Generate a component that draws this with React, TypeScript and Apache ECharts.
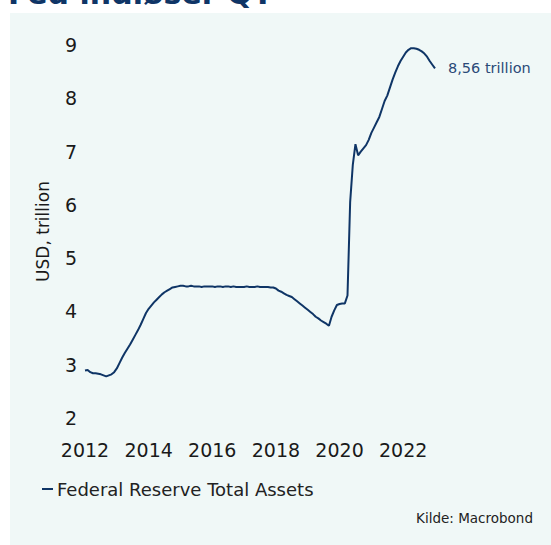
import React, { useEffect, useRef } from "react";
import * as echarts from "echarts";

const months: string[] = [];
for (let y = 2012; y <= 2022; y++) {
  for (let m = 1; m <= 12; m++) months.push(`${y}-${String(m).padStart(2, "0")}`);
}
months.push("2023-01");

const assets: number[] = [
  // 2012
  2.89, 2.9, 2.86, 2.84, 2.84, 2.83, 2.82, 2.8, 2.78, 2.8, 2.82, 2.86,
  // 2013
  2.93, 3.03, 3.13, 3.22, 3.3, 3.38, 3.47, 3.56, 3.65, 3.75, 3.86, 3.97,
  // 2014
  4.05, 4.11, 4.17, 4.22, 4.27, 4.32, 4.36, 4.39, 4.42, 4.45, 4.46, 4.47,
  // 2015
  4.48, 4.48, 4.47, 4.47, 4.48, 4.47, 4.47, 4.47, 4.46, 4.47, 4.47, 4.47,
  // 2016
  4.47, 4.46, 4.47, 4.47, 4.46, 4.47, 4.47, 4.46, 4.47, 4.46, 4.46, 4.46,
  // 2017
  4.46, 4.47, 4.46, 4.46, 4.46, 4.47, 4.46, 4.46, 4.46, 4.46, 4.45, 4.45,
  // 2018
  4.43, 4.39, 4.37, 4.34, 4.31, 4.29, 4.27, 4.23, 4.19, 4.15, 4.11, 4.07,
  // 2019
  4.03, 3.99, 3.95, 3.9, 3.87, 3.83, 3.8, 3.77, 3.73, 3.9, 4.02, 4.12,
  // 2020
  4.14, 4.15, 4.15, 4.3, 6.05, 6.75, 7.14, 6.93, 7.0, 7.06, 7.12, 7.22,
  // 2021
  7.35, 7.45, 7.55, 7.65, 7.8, 7.95, 8.05, 8.2, 8.35, 8.48, 8.6, 8.7,
  // 2022
  8.78, 8.86, 8.91, 8.94, 8.94, 8.93, 8.91, 8.88, 8.84, 8.78, 8.7, 8.63,
  // 2023
  8.56,
];

const seriesName = "Federal Reserve Total Assets";
const yAxisName = "USD, trillion";
const titleText = "Fed indløser QT";
const sourceText = "Kilde: Macrobond";

const FONT = "DejaVu Sans";
const NAVY = "#0f3566";

function toYear(s: string): number {
  const [y, m] = s.split("-").map(Number);
  return y + (m - 1) / 12;
}

export default function App() {
  const ref = useRef<HTMLDivElement>(null);
  useEffect(() => {
    if (!ref.current) return;
    const chart = echarts.init(ref.current, null, { renderer: "svg" });
    const data = months.map((d, i) => [toYear(d), assets[i]]);
    chart.setOption({
      animation: false,
      backgroundColor: "#ffffff",
      graphic: [
        {
          type: "rect",
          shape: { x: 10, y: 13, width: 541, height: 532 },
          style: { fill: "#f0f8f7" },
          z: -10,
          silent: true,
        },
        {
          type: "text",
          x: 8,
          y: 8,
          style: {
            text: titleText,
            font: `bold 30px ${FONT}`,
            fill: "#0f3566",
            verticalAlign: "bottom",
          },
          z: -5,
        },
        {
          type: "text",
          right: 18,
          top: 511,
          style: {
            text: sourceText,
            font: `13.5px ${FONT}`,
            fill: "#222222",
          },
        },
      ],
      grid: {
        left: 85,
        right: 116,
        top: 45,
        bottom: 127,
        outerBoundsMode: "none",
      },
      legend: {
        left: 42,
        top: 480,
        padding: 0,
        icon: "rect",
        itemWidth: 11,
        itemHeight: 2,
        itemGap: 4,
        textStyle: { fontFamily: FONT, fontSize: 18, color: "#222222", padding: [0, 0, 0, -1] },
        data: [seriesName],
      },
      xAxis: {
        type: "value",
        min: 2012,
        max: 2023,
        interval: 2,
        splitLine: { show: false },
        axisLine: { show: false },
        axisTick: { show: false },
        axisLabel: {
          margin: 22,
          fontFamily: FONT,
          fontSize: 19,
          color: "#1a1a1a",
          formatter: (v: number) => (v % 2 === 0 ? String(v) : ""),
        },
      },
      yAxis: {
        type: "value",
        min: 2,
        max: 9,
        interval: 1,
        name: yAxisName,
        nameLocation: "middle",
        nameRotate: 90,
        nameGap: 34,
        nameTextStyle: { fontFamily: FONT, fontSize: 17, color: "#1a1a1a" },
        splitLine: { show: false },
        axisLine: { show: false },
        axisTick: { show: false },
        axisLabel: {
          margin: 8,
          fontFamily: FONT,
          fontSize: 19,
          color: "#1a1a1a",
        },
      },
      series: [
        {
          name: seriesName,
          type: "line",
          data,
          showSymbol: false,
          symbol: "none",
          lineStyle: { color: NAVY, width: 2 },
          itemStyle: { color: NAVY },
          endLabel: {
            show: true,
            distance: 13,
            fontFamily: FONT,
            fontSize: 14.5,
            color: "#2b4a78",
            formatter: (p: any) =>
              `${Number(p.value[1]).toFixed(2).replace(".", ",")} trillion`,
          },
        },
      ],
    });
    return () => chart.dispose();
  }, []);
  return (
    <div
      ref={ref}
      style={{ position: "absolute", left: 0, top: 0, width: 551, height: 545 }}
    />
  );
}
